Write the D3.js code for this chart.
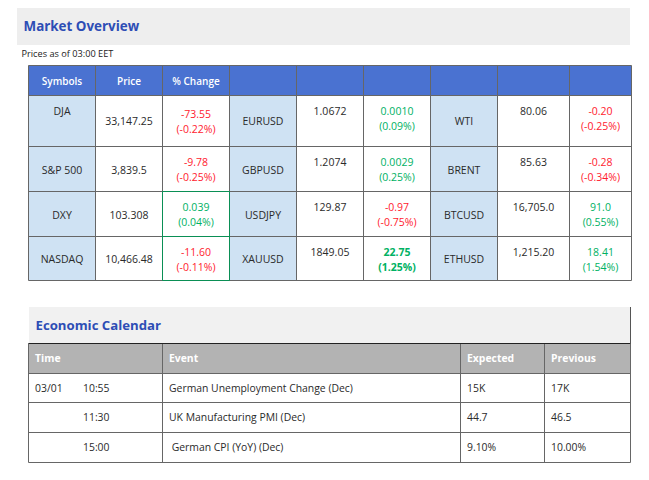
<!DOCTYPE html>
<html><head><meta charset="utf-8">
<script src="https://cdn.jsdelivr.net/npm/d3@7"></script>
<style>html,body{margin:0;background:#fff}svg{display:block}text{font-family:"Open Sans",sans-serif}</style>
</head><body><svg id="c" width="649" height="480"></svg>
<script>
// data
const marketHeaders = ["Symbols","Price","% Change","","","","","",""];
const symbolsA = ["DJA","S&P 500","DXY","NASDAQ"];
const pricesA = ["33,147.25","3,839.5","103.308","10,466.48"];
const changesA = ["-73.55","-9.78","0.039","-11.60"];
const pctsA = ["(-0.22%)","(-0.25%)","(0.04%)","(-0.11%)"];
const symbolsB = ["EURUSD","GBPUSD","USDJPY","XAUUSD"];
const pricesB = ["1.0672","1.2074","129.87","1849.05"];
const changesB = ["0.0010","0.0029","-0.97","22.75"];
const pctsB = ["(0.09%)","(0.25%)","(-0.75%)","(1.25%)"];
const symbolsC = ["WTI","BRENT","BTCUSD","ETHUSD"];
const pricesC = ["80.06","85.63","16,705.0","1,215.20"];
const changesC = ["-0.20","-0.28","91.0","18.41"];
const pctsC = ["(-0.25%)","(-0.34%)","(0.55%)","(1.54%)"];
const calHeaders = ["Time","Event","Expected","Previous"];
const calDates = ["03/01","",""];
const calTimes = ["10:55","11:30","15:00"];
const calEvents = ["German Unemployment Change (Dec)","UK Manufacturing PMI (Dec)"," German CPI (YoY) (Dec)"];
const calExpected = ["15K","44.7","9.10%"];
const calPrevious = ["17K","46.5","10.00%"];

// layout
const colEdges=[28.5,95.5,162.5,229.5,296.5,363.5,430.5,497.5,569.5,631.5];
const rowEdges=[65.5,95.5,146.5,191.5,236.5,280.5];
const calCols=[28.5,162.5,460.5,544.5,630.5];
const calRows=[343.5,373.5,402.5,432.5,462.5];
const idx=n=>d3.range(n);
const x=d3.scaleOrdinal(idx(colEdges.length),colEdges);
const y=d3.scaleOrdinal(idx(rowEdges.length),rowEdges);
const cx=d3.scaleOrdinal(idx(calCols.length),calCols);
const cy=d3.scaleOrdinal(idx(calRows.length),calRows);
const BORDER="#666",BLUE="#4a72d1",SYM="#cfe2f3",RED="#ff1a2e",GREEN="#00b163",INK="#2a2a2a",TITLE="#2d4db5";
const svg=d3.select("#c");
const rect=(a,b,w,h,f)=>svg.append("rect").attr("x",a).attr("y",b).attr("width",w).attr("height",h).attr("fill",f);
const line=(a,b,c,d,s)=>svg.append("line").attr("x1",a).attr("y1",b).attr("x2",c).attr("y2",d).attr("stroke",s).attr("stroke-width",1);
const text=(s,a,b,o={})=>svg.append("text").attr("x",a).attr("y",b).attr("dy","0.35em").attr("xml:space","preserve")
  .attr("text-anchor",o.anchor||"middle").attr("font-size",o.size||10.5).attr("font-weight",o.weight||400)
  .attr("fill",o.fill||INK).text(s);

// Title bands
rect(17,8,613,37,"#eeeeee");
text("Market Overview",23.5,26,{anchor:"start",size:13.4,weight:700,fill:TITLE});
text("Prices as of 03:00 EET",21.5,53.5,{anchor:"start",size:9.2,fill:"#222"});

// Market table fills
rect(x(0),y(0),x(9)-x(0),y(1)-y(0),BLUE);
[0,3,6].forEach(c=>rect(x(c),y(1),x(c+1)-x(c),y(5)-y(1),SYM));
idx(10).forEach(i=>line(x(i),y(0),x(i),y(5),BORDER));
idx(6).forEach(i=>line(x(0),y(i),x(9),y(i),BORDER));
// Green highlighted cells
line(x(2),y(3),x(2),y(5),"#0a8f55");line(x(3),y(3),x(3),y(5),"#0a8f55");
[3,4,5].forEach(r=>line(x(2),y(r),x(3),y(r),"#0a8f55"));

const mid=(e,c)=>(e(c)+e(c+1))/2;
marketHeaders.forEach((h,c)=>{if(h)text(h,mid(x,c),y(0)+15.5,{fill:"#fff",size:10,weight:600});});
const rowMid=r=>mid(y,r+1)+(r===0?0:1);
const topLine=r=>y(r+1)+15.5;
const groups=[
 {c:0,sym:symbolsA,price:pricesA,chg:changesA,pct:pctsA,priceTop:false},
 {c:3,sym:symbolsB,price:pricesB,chg:changesB,pct:pctsB,priceTop:true},
 {c:6,sym:symbolsC,price:pricesC,chg:changesC,pct:pctsC,priceTop:true}];
groups.forEach(g=>{
  idx(4).forEach(r=>{
    const symY=(g.c===0&&r===0)?topLine(r):rowMid(r);
    text(g.sym[r],mid(x,g.c),symY);
    text(g.price[r],mid(x,g.c+1),g.priceTop?topLine(r):rowMid(r));
    const col=g.chg[r].startsWith("-")?RED:GREEN;
    const bold=g.chg[r]==="22.75"?700:400;
    const shift=(g.c===0&&r===0)?3:0;
    text(g.chg[r],mid(x,g.c+2),topLine(r)+shift,{fill:col,weight:bold});
    text(g.pct[r],mid(x,g.c+2),topLine(r)+shift+15,{fill:col,weight:bold});
  });
});

// Calendar
rect(cx(0)+.5,307,cx(4)-cx(0)-.5,36,"#f1f1f1");
line(cx(4),307,cx(4),cy(0),"#555");
text("Economic Calendar",35.5,325,{anchor:"start",size:13.2,weight:700,fill:TITLE});
rect(cx(0),cy(0),cx(4)-cx(0),cy(1)-cy(0),"#b3b3b3");
idx(5).forEach(i=>line(cx(i),cy(0),cx(i),cy(4),BORDER));
line(cx(0),cy(0),cx(4),cy(0),"#222");
[1,2,3,4].forEach(i=>line(cx(0),cy(i),cx(4),cy(i),BORDER));
calHeaders.forEach((h,i)=>text(h,cx(i)+6.5,mid(cy,0),{anchor:"start",fill:"#fff",size:10.4,weight:700}));
idx(3).forEach(r=>{
  const ty=mid(cy,r+1);
  const o={anchor:"start",size:10.4,fill:"#2a2a2a"};
  text(calDates[r],35,ty,o);
  text(calTimes[r],83,ty,o);
  text(calEvents[r],cx(1)+6.5,ty,o);
  text(calExpected[r],cx(2)+6.5,ty,o);
  text(calPrevious[r],cx(3)+6.5,ty,o);
});
</script></body></html>
